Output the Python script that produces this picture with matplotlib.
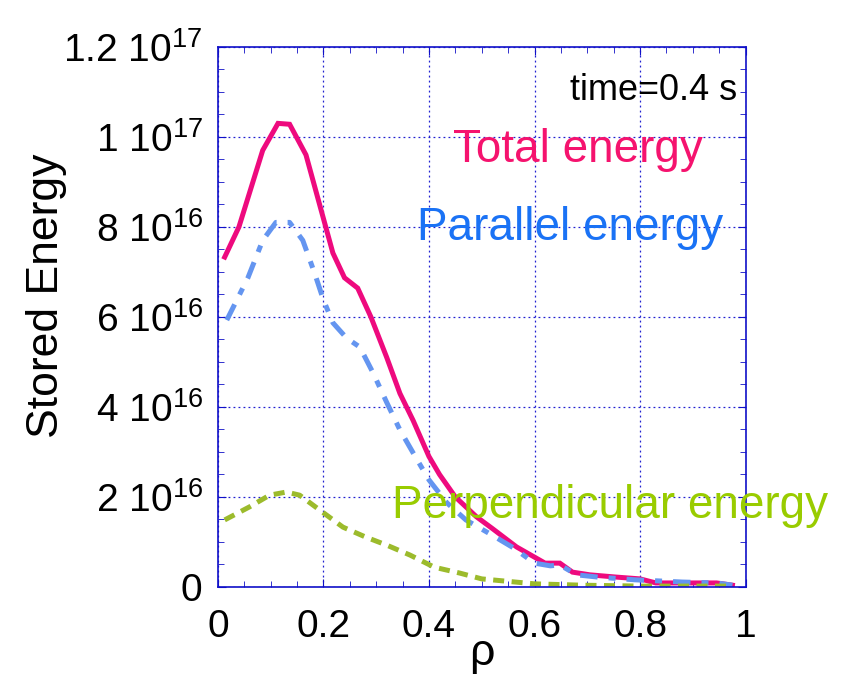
import matplotlib
matplotlib.use('Agg')
import matplotlib.pyplot as plt
from matplotlib.ticker import MultipleLocator, FixedLocator

plt.rcParams['font.family'] = ['Liberation Sans', 'DejaVu Sans']
plt.rcParams['mathtext.fontset'] = 'custom'
plt.rcParams['mathtext.rm'] = 'Liberation Sans'
plt.rcParams['mathtext.default'] = 'regular'

# data (energy in units of 1e17)
rho_tot = [0.013, 0.04, 0.085, 0.114, 0.136, 0.167, 0.218, 0.24, 0.265, 0.29, 0.32,
           0.345, 0.37, 0.40, 0.42, 0.45, 0.49, 0.52, 0.566, 0.62, 0.648, 0.672,
           0.705, 0.755, 0.80, 0.83, 0.945, 0.975]
e_tot = [0.733, 0.80, 0.97, 1.03, 1.028, 0.96, 0.742, 0.687, 0.664, 0.60, 0.51,
         0.43, 0.37, 0.29, 0.25, 0.20, 0.156, 0.13, 0.089, 0.053, 0.053, 0.033,
         0.027, 0.022, 0.018, 0.009, 0.009, 0.004]

rho_par = [0.017, 0.057, 0.085, 0.11, 0.136, 0.161, 0.184, 0.20, 0.218, 0.244, 0.269,
           0.294, 0.32, 0.345, 0.37, 0.40, 0.434, 0.47, 0.52, 0.56, 0.60, 0.63,
           0.648, 0.68, 0.72, 0.79, 0.88, 0.945, 0.975]
e_par = [0.593, 0.687, 0.77, 0.81, 0.81, 0.77, 0.695, 0.638, 0.587, 0.553, 0.533,
         0.476, 0.41, 0.349, 0.298, 0.238, 0.187, 0.149, 0.115, 0.087, 0.053, 0.047,
         0.049, 0.027, 0.022, 0.016, 0.011, 0.009, 0.004]

rho_perp = [0.013, 0.06, 0.098, 0.13, 0.155, 0.193, 0.237, 0.28, 0.32, 0.364, 0.41,
            0.458, 0.50, 0.60, 0.69, 0.80, 0.90, 0.975]
e_perp = [0.149, 0.178, 0.204, 0.211, 0.204, 0.171, 0.133, 0.111, 0.093, 0.071, 0.044,
          0.031, 0.018, 0.007, 0.004, 0.002, 0.002, 0.002]

yticks = [0, 0.2, 0.4, 0.6, 0.8, 1.0, 1.2]
ytick_labels = ['0', r'2 10$^{16}$', r'4 10$^{16}$', r'6 10$^{16}$', r'8 10$^{16}$',
                r'1 10$^{17}$', r'1.2 10$^{17}$']
xticks = [0, 0.2, 0.4, 0.6, 0.8, 1]
xtick_labels = ['0', '0.2', '0.4', '0.6', '0.8', '1']

fig = plt.figure(figsize=(8.61, 6.79), dpi=100)
ax = fig.add_axes([0.253, 0.1355, 0.613, 0.7955])

ax.plot(rho_tot, e_tot, color='#ee0a7e', lw=3.6, solid_joinstyle='miter')
ax.plot(rho_par, e_par, color='#6495f0', lw=3.6, dashes=(3.5, 2.2, 1.4, 2.2))
ax.plot(rho_perp, e_perp, color='#9cbb2c', lw=3.6, dashes=(2.2, 1.5))

ax.set_xlim(0, 1)
ax.set_ylim(0, 1.2)
ax.xaxis.set_major_locator(FixedLocator(xticks))
ax.set_xticklabels(xtick_labels)
ax.yaxis.set_major_locator(FixedLocator(yticks))
ax.set_yticklabels(ytick_labels)
ax.xaxis.set_minor_locator(MultipleLocator(0.05))
ax.yaxis.set_minor_locator(MultipleLocator(0.05))

ax.grid(True, which='major', color='#2020d0', linestyle=(0, (1.5, 2.5)), lw=0.9)
for s in ax.spines.values():
    s.set_color('#1010c8')
    s.set_linewidth(1.2)
ax.tick_params(which='both', direction='in', top=True, right=True, color='#1010c8')
ax.tick_params(which='major', length=6, labelsize=28)
ax.tick_params(axis='y', which='major', pad=11)
ax.tick_params(axis='x', which='major', pad=16)
ax.tick_params(which='minor', length=4)

ax.set_ylabel('Stored Energy', fontsize=32)
ax.yaxis.set_label_coords(-0.285, 0.54)
ax.set_xlabel('ρ', fontsize=32, labelpad=-9)

ax.text(0.983, 0.902, 'time=0.4 s', transform=ax.transAxes, ha='right', va='baseline',
        fontsize=26, color='black')
ax.text(0.682, 0.787, 'Total energy', transform=ax.transAxes, ha='center', va='baseline',
        fontsize=33, color='#f5136e')
ax.text(0.668, 0.643, 'Parallel energy', transform=ax.transAxes, ha='center', va='baseline',
        fontsize=33, color='#1a72f5')
ax.text(0.744, 0.128, 'Perpendicular energy', transform=ax.transAxes, ha='center',
        va='baseline', fontsize=33, color='#99cc00', clip_on=False)

fig.savefig('out.png', dpi=100)
